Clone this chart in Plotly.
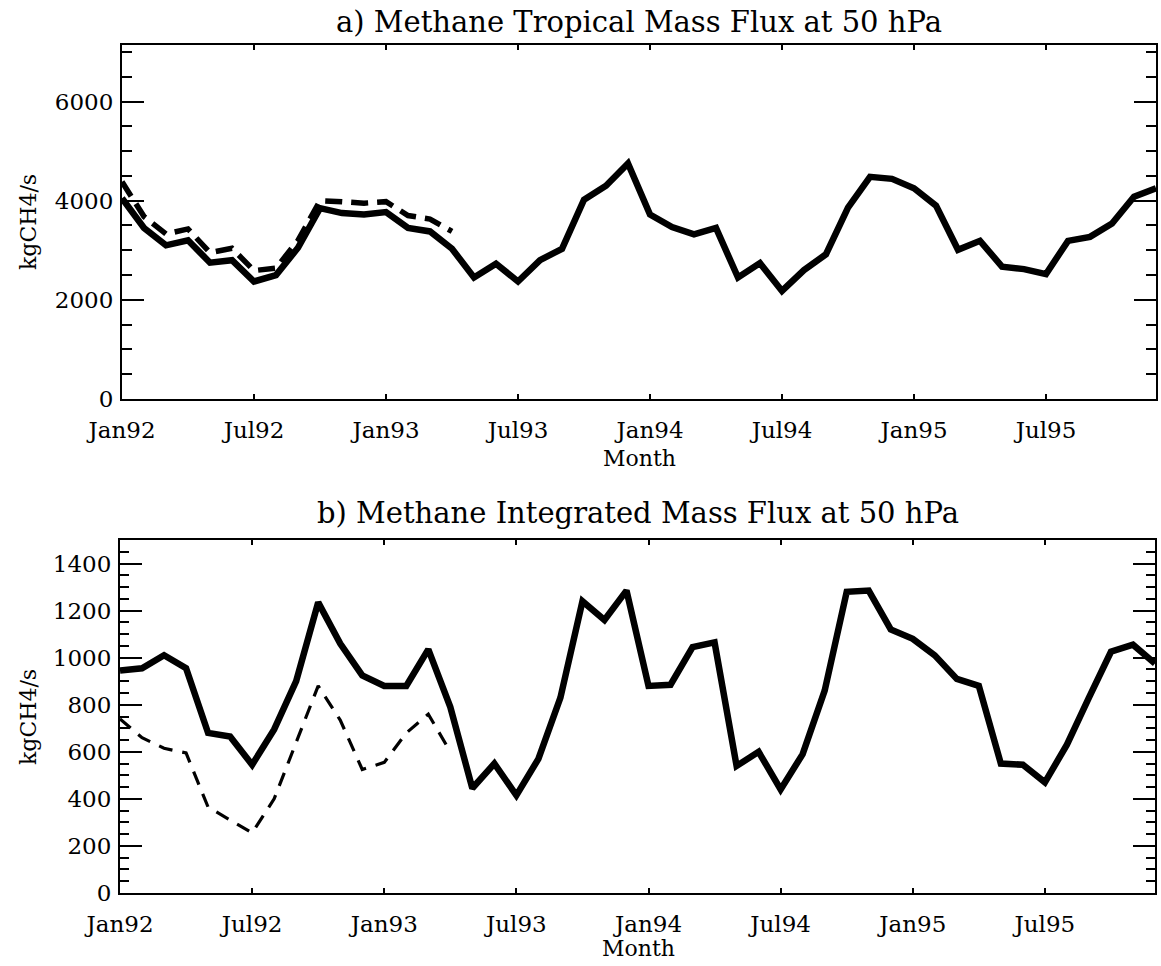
import plotly.graph_objects as go

# Month index 0 = Jan 1992 ... 47 = Dec 1995
months = list(range(48))
tick_months = [0, 6, 12, 18, 24, 30, 36, 42]
tick_labels = ["Jan92", "Jul92", "Jan93", "Jul93", "Jan94", "Jul94", "Jan95", "Jul95"]

# a) tropical mass flux (kgCH4/s)
tropical_solid = [4050, 3450, 3100, 3200, 2750, 2800, 2370, 2500, 3050, 3850,
                  3750, 3720, 3770, 3450, 3380, 3030, 2450, 2730, 2370, 2800,
                  3030, 4020, 4300, 4750, 3720, 3470, 3320, 3450, 2450, 2740,
                  2180, 2600, 2920, 3860, 4480, 4440, 4250, 3900, 3010, 3190,
                  2670, 2620, 2520, 3190, 3270, 3540, 4080, 4250]
tropical_dashed = [4380, 3680, 3330, 3430, 2950, 3040, 2590, 2640, 3200, 4000,
                   3980, 3950, 3980, 3700, 3630, 3380]

# b) integrated mass flux (kgCH4/s)
integrated_solid = [945, 955, 1010, 955, 680, 665, 545, 695, 900, 1235,
                    1060, 925, 880, 880, 1035, 790, 445, 550, 415, 570,
                    830, 1240, 1160, 1285, 880, 885, 1045, 1065, 540, 600,
                    440, 590, 860, 1280, 1285, 1120, 1080, 1010, 910, 880,
                    550, 545, 470, 630, 830, 1025, 1055, 975]
integrated_dashed = [740, 660, 615, 595, 365, 310, 255, 400, 640, 880,
                     735, 525, 555, 680, 760, 600]

W, H = 1161, 966
FONT = "DejaVu Serif"


def px_x(p):
    return p / W


def px_y(p):
    return 1 - p / H


fig = go.Figure()

fig.add_trace(go.Scatter(x=months, y=tropical_solid, mode="lines",
                         line=dict(color="black", width=6.5),
                         xaxis="x", yaxis="y", showlegend=False))
fig.add_trace(go.Scatter(x=months[:len(tropical_dashed)], y=tropical_dashed, mode="lines",
                         line=dict(color="black", width=5.5, dash="17px,9px"),
                         xaxis="x", yaxis="y", showlegend=False))
fig.add_trace(go.Scatter(x=months, y=integrated_solid, mode="lines",
                         line=dict(color="black", width=6.5),
                         xaxis="x2", yaxis="y2", showlegend=False))
fig.add_trace(go.Scatter(x=months[:len(integrated_dashed)], y=integrated_dashed, mode="lines",
                         line=dict(color="black", width=3.2, dash="14px,10px"),
                         xaxis="x2", yaxis="y2", showlegend=False))

tickfont = dict(family=FONT, size=23, color="black")

xcommon = dict(range=[0, 47], tickmode="array", tickvals=tick_months, ticktext=tick_labels,
               ticks="inside", ticklen=5, tickwidth=2, tickcolor="black",
               showline=True, linewidth=2, linecolor="black", mirror="ticks",
               showgrid=False, zeroline=False, tickfont=tickfont,
               ticklabelstandoff=9, automargin=False)

ycommon = dict(ticks="inside", ticklen=22, tickwidth=2, tickcolor="black",
               showline=True, linewidth=2, linecolor="black", mirror="ticks",
               showgrid=False, zeroline=False, tickfont=tickfont,
               ticklabelstandoff=2, automargin=False)

fig.update_layout(
    template="none",
    width=W, height=H, autosize=False,
    margin=dict(l=0, r=0, t=0, b=0, pad=0),
    paper_bgcolor="white", plot_bgcolor="white",
    xaxis=dict(domain=[px_x(122), px_x(1156)], anchor="y", **xcommon),
    yaxis=dict(domain=[px_y(399), px_y(45)], anchor="x", range=[0, 7140],
               tickvals=[0, 2000, 4000, 6000],
               minor=dict(dtick=500, tick0=0, ticks="inside", ticklen=10,
                          tickwidth=2, tickcolor="black", showgrid=False),
               **ycommon),
    xaxis2=dict(domain=[px_x(120), px_x(1155)], anchor="y2", **xcommon),
    yaxis2=dict(domain=[px_y(893), px_y(540)], anchor="x2", range=[0, 1500],
                tickvals=[0, 200, 400, 600, 800, 1000, 1200, 1400],
                minor=dict(dtick=50, tick0=0, ticks="inside", ticklen=9,
                           tickwidth=2, tickcolor="black", showgrid=False),
                **ycommon),
)

annotations = [
    dict(text="a) Methane Tropical Mass Flux at 50 hPa", x=px_x(639), y=px_y(22),
         size=29),
    dict(text="b) Methane Integrated Mass Flux at 50 hPa", x=px_x(638), y=px_y(513),
         size=29),
    dict(text="Month", x=px_x(639), y=px_y(458), size=22),
    dict(text="Month", x=px_x(638), y=px_y(948), size=22),
]
for a in annotations:
    fig.add_annotation(text=a["text"], x=a["x"], y=a["y"], xref="paper", yref="paper",
                       xanchor="center", yanchor="middle", showarrow=False,
                       font=dict(family=FONT, size=a["size"], color="black"))

for yc in (222, 717):
    fig.add_annotation(text="kgCH4/s", x=px_x(28), y=px_y(yc), xref="paper", yref="paper",
                       xanchor="center", yanchor="middle", showarrow=False, textangle=-90,
                       font=dict(family=FONT, size=22, color="black"))

fig.write_html("out.html")
